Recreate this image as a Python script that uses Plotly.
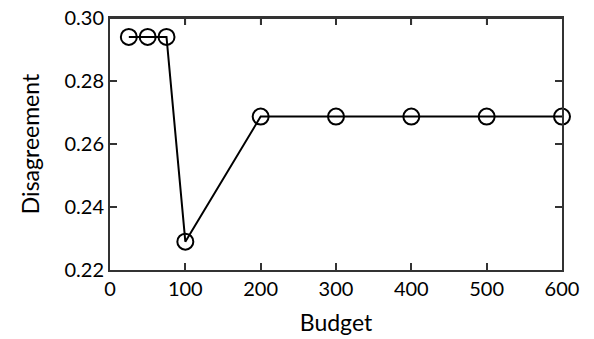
import plotly.graph_objects as go

budget = [25, 50, 75, 100, 200, 300, 400, 500, 600]
disagreement = [0.294, 0.294, 0.294, 0.229, 0.2687, 0.2687, 0.2687, 0.2687, 0.2687]
x_ticks = [0, 100, 200, 300, 400, 500, 600]
y_ticks = [0.22, 0.24, 0.26, 0.28, 0.30]

fig = go.Figure()
fig.add_trace(go.Scatter(
    x=budget, y=disagreement, mode="lines+markers",
    line=dict(color="black", width=2),
    marker=dict(symbol="circle-open", size=16, color="black", line=dict(width=2, color="black")),
    showlegend=False, cliponaxis=False,
))

font = "Lato, 'Open Sans', sans-serif"
axis_common = dict(
    showgrid=False, zeroline=False, showline=True, linecolor="#333", linewidth=2,
    mirror="ticks", ticks="inside", ticklen=7, tickwidth=1.5, tickcolor="#333",
    tickfont=dict(family=font, size=20, color="black"),
    ticklabeloverflow="allow", automargin=False,
)
fig.update_xaxes(range=[0, 600], tickvals=x_ticks, ticktext=[str(v) for v in x_ticks],
                 title=dict(text="Budget", font=dict(family=font, size=23, color="black"), standoff=16),
                 **axis_common)
fig.update_yaxes(range=[0.22, 0.30], tickvals=y_ticks, ticktext=[f"{v:.2f}" for v in y_ticks],
                 title=dict(text="Disagreement", font=dict(family=font, size=23, color="black"), standoff=18),
                 **axis_common)

# top frame line and mirrored ticks (drawn explicitly)
fig.add_shape(type="line", xref="paper", yref="paper", x0=0, x1=1, y0=1, y1=1,
              line=dict(color="#333", width=2))
for xv in x_ticks[1:-1]:
    fig.add_shape(type="line", xref="x", yref="paper", ysizemode="pixel", yanchor=1,
                  x0=xv, x1=xv, y0=0, y1=-7, line=dict(color="#333", width=1.5))

fig.update_layout(
    width=586, height=331, margin=dict(l=102, r=32, t=10, b=69),
    plot_bgcolor="white", paper_bgcolor="white",
)
fig.write_html("out.html")
